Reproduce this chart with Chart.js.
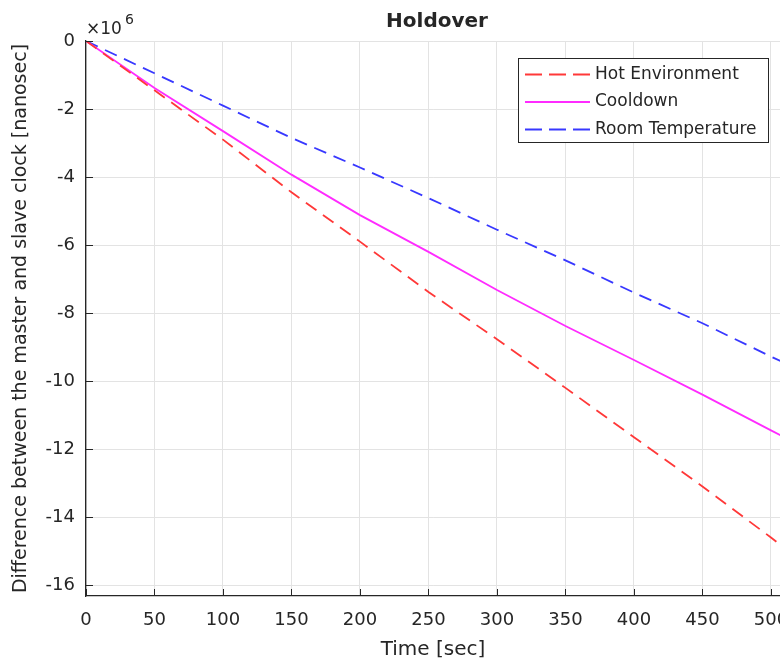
<!DOCTYPE html>
<html>
<head>
<meta charset="utf-8">
<script src="https://cdn.jsdelivr.net/npm/chart.js@4/dist/chart.umd.min.js"></script>
<style>
  html, body { margin: 0; padding: 0; background: #fff; }
  #holdover { display: block; }
</style>
</head>
<body>
<canvas id="holdover" width="780" height="664"></canvas>
<script>
// values, y in units of 1e6 ns
const timeSec = [0, 50, 100, 150, 200, 250, 300, 350, 400, 450, 500, 510];
const hotEnv = [0, -1.45, -2.9, -4.45, -5.9, -7.38, -8.77, -10.2, -11.65, -13.1, -14.6, -14.92];
const cooldown = [0, -1.38, -2.65, -3.93, -5.12, -6.2, -7.32, -8.38, -9.38, -10.4, -11.45, -11.66];
const roomTemp = [0, -0.95, -1.9, -2.85, -3.72, -4.62, -5.55, -6.45, -7.4, -8.3, -9.28, -9.47];
const seriesNames = ['Hot Environment', 'Cooldown', 'Room Temperature'];
const xTicks = [0, 50, 100, 150, 200, 250, 300, 350, 400, 450, 500];
const yTicks = [0, -2, -4, -6, -8, -10, -12, -14, -16];

const FONT = '"DejaVu Sans", sans-serif';
const INK = '#262626';

const pts = (ys) => timeSec.map((x, i) => ({ x, y: ys[i] }));

function mkSet(label, data, color, dash) {
    return {
        label, data: pts(data),
        borderColor: color, backgroundColor: color,
        borderWidth: 1.8, borderDash: dash,
        pointRadius: 0, tension: 0, fill: false,
    };
}

// MATLAB-style extras: inward ticks, exponent, title, boxed legend
const decor = {
    id: 'decor',
    afterDraw(chart) {
        const { ctx, chartArea: a, scales: { x, y } } = chart;
        ctx.save();
        ctx.strokeStyle = INK;
        ctx.lineWidth = 1;
        ctx.beginPath();
        xTicks.forEach((v) => { const px = Math.round(x.getPixelForValue(v)) + 0.5; ctx.moveTo(px, a.bottom); ctx.lineTo(px, a.bottom - 7); });
        yTicks.forEach((v) => { const py = Math.round(y.getPixelForValue(v)) + 0.5; ctx.moveTo(a.left, py); ctx.lineTo(a.left + 7, py); });
        ctx.stroke();

        ctx.fillStyle = INK;
        ctx.textBaseline = 'alphabetic';
        ctx.textAlign = 'center';
        ctx.font = 'bold 20px ' + FONT;
        ctx.fillText('Holdover', 437, 27);

        ctx.textAlign = 'left';
        ctx.font = '17px ' + FONT;
        ctx.fillText('\u00d710', 86, 34);
        ctx.font = '14px ' + FONT;
        ctx.fillText('6', 125, 24);

        // legend
        const lx = 518, ly = 58, lw = 250, lh = 84;
        ctx.fillStyle = '#fff';
        ctx.fillRect(lx, ly, lw, lh);
        ctx.strokeStyle = INK;
        ctx.lineWidth = 1;
        ctx.strokeRect(lx + 0.5, ly + 0.5, lw, lh);
        ctx.font = '17px ' + FONT;
        ctx.textBaseline = 'middle';
        chart.data.datasets.forEach((ds, i) => {
            const cy = 74.5 + i * 27.5;
            const dashed = ds.borderDash && ds.borderDash.length;
            ctx.strokeStyle = ds.borderColor;
            ctx.lineWidth = ds.borderWidth;
            ctx.setLineDash(dashed ? [17, 7] : []);
            ctx.beginPath();
            ctx.moveTo(525, cy);
            ctx.lineTo(590, cy);
            ctx.stroke();
            ctx.setLineDash([]);
            ctx.fillStyle = INK;
            ctx.fillText(ds.label, 595, cy);
        });
        ctx.restore();
    },
};

new Chart(document.getElementById('holdover'), {
    type: 'line',
    data: {
        datasets: [
            mkSet(seriesNames[0], hotEnv, '#ff3838', [13, 8]),
            mkSet(seriesNames[1], cooldown, '#ff2bff', []),
            mkSet(seriesNames[2], roomTemp, '#3838ff', [13, 8]),
        ],
    },
    options: {
        responsive: false,
        devicePixelRatio: 1,
        animation: false,
        layout: { padding: { top: 41, left: 0, right: 0, bottom: 0 } },
        plugins: { legend: { display: false }, title: { display: false }, tooltip: { enabled: false } },
        scales: {
            x: {
                type: 'linear', min: 0, max: 506.6,
                afterBuildTicks: (s) => { s.ticks = xTicks.map((v) => ({ value: v })); },
                afterFit: (s) => { s.height = 68; s.paddingLeft = 0; s.paddingRight = 0; },
                grid: { color: '#e3e3e3', drawTicks: false },
                border: { color: INK, width: 1.3 },
                ticks: { color: INK, font: { family: FONT, size: 18 }, padding: 14, maxRotation: 0 },
                title: { display: true, text: 'Time [sec]', color: INK, font: { family: FONT, size: 20 }, padding: { top: 0, bottom: 2 } },
            },
            y: {
                type: 'linear', min: -16.32, max: 0,
                afterBuildTicks: (s) => { s.ticks = yTicks.map((v) => ({ value: v })); },
                afterFit: (s) => { s.width = 86; s.paddingTop = 0; s.paddingBottom = 0; },
                grid: { color: '#e3e3e3', drawTicks: false },
                border: { color: INK, width: 1.3 },
                ticks: { color: INK, font: { family: FONT, size: 18 }, padding: 11 },
                title: { display: true, text: 'Difference between the master and slave clock [nanosec]', color: INK, font: { family: FONT, size: 19 }, padding: { top: 10, bottom: 0 } },
            },
        },
    },
    plugins: [decor],
});
</script>
</body>
</html>
